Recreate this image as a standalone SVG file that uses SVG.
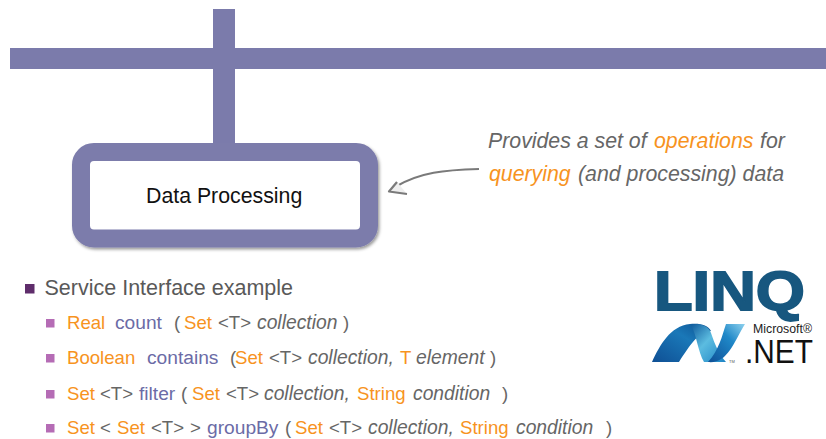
<svg xmlns="http://www.w3.org/2000/svg" width="826" height="439" viewBox="0 0 826 439">
<style>
text{font-family:"Liberation Sans",Arial,sans-serif}
.bar{fill:#7b7bab}
.h{font-size:21.500px;fill:#595959}
.s{font-size:18.600px;fill:#666}
.n{font-size:21.300px;font-style:italic;fill:#666}
.o{fill:#f7931e;font-style:normal}
.ni{fill:#f7931e;font-style:italic}
.f{fill:#6b6ba6;font-size:19.200px}
.i{font-style:italic;font-size:19.300px}
.b1{fill:#5f2d6b}
.b2{fill:#b56cb5}
</style>
<defs>
<filter id="sh" x="-10%" y="-10%" width="125%" height="130%"><feDropShadow dx="1.500" dy="2" stdDeviation="1.800" flood-color="#000" flood-opacity="0.4"/></filter>
<linearGradient id="w1" x1="0" y1="1" x2="1" y2="0"><stop offset="0" stop-color="#0f4f94"/><stop offset="0.6" stop-color="#1a78b8"/><stop offset="1" stop-color="#0d4f8f"/></linearGradient>
<linearGradient id="w2" x1="0" y1="0" x2="1" y2="1"><stop offset="0" stop-color="#0f5a9c"/><stop offset="0.45" stop-color="#5cbce0"/><stop offset="1" stop-color="#1c83c4"/></linearGradient>
<linearGradient id="w3" x1="0" y1="1" x2="1" y2="0"><stop offset="0" stop-color="#0e4f96"/><stop offset="0.6" stop-color="#1f88c8"/><stop offset="1" stop-color="#8fd2ee"/></linearGradient>
</defs>
<g id="connectors">
<rect class="bar" x="10" y="48" width="816" height="21"/>
<rect class="bar" x="213" y="9" width="22" height="135"/>
<path d="M479 169C445 170 420 172 395 187" fill="none" stroke="#7a7a7a" stroke-width="2.200"/>
<path d="M397 182L389 191.500L407 194" fill="#eee" stroke="#7a7a7a" stroke-width="2.200" stroke-linejoin="round"/>
</g>
<g id="data-processing">
<rect x="81" y="152" width="288" height="86.500" rx="13" fill="#fff" stroke="#7b7bab" stroke-width="18" filter="url(#sh)"/>
<text x="146" y="203" font-size="21.300" fill="#111">Data Processing</text>
</g>
<g id="note">
<text class="n" y="148"><tspan x="488">Provides a set of </tspan><tspan class="ni" x="654">operations</tspan><tspan x="760">for</tspan></text>
<text class="n" y="181"><tspan class="ni" x="489">querying</tspan><tspan x="578">(and processing) data</tspan></text>
</g>
<g id="list">
<rect class="b1" x="25" y="284" width="9.500" height="9.500"/>
<text class="h" x="44.500" y="295">Service Interface example</text>
<rect class="b2" x="46" y="319" width="8.500" height="8.500"/>
<rect class="b2" x="46" y="354" width="8.500" height="8.500"/>
<rect class="b2" x="46" y="390" width="8.500" height="8.500"/>
<rect class="b2" x="46" y="424" width="8.500" height="8.500"/>
<text class="s" y="329"><tspan class="o" x="67">Real</tspan><tspan class="f" x="115">count</tspan><tspan x="174">(</tspan><tspan class="o" x="184">Set</tspan><tspan x="218">&lt;T&gt;</tspan><tspan class="i" x="257">collection</tspan><tspan x="343">)</tspan></text>
<text class="s" y="364"><tspan class="o" x="67">Boolean</tspan><tspan class="f" x="147">contains</tspan><tspan x="230">(</tspan><tspan class="o" x="235">Set</tspan><tspan x="269">&lt;T&gt;</tspan><tspan class="i" x="308">collection,</tspan><tspan class="o" x="400">T</tspan><tspan class="i" x="416">element</tspan><tspan x="490">)</tspan></text>
<text class="s" y="400"><tspan class="o" x="67">Set</tspan><tspan x="100">&lt;T&gt;</tspan><tspan class="f" x="139">filter</tspan><tspan x="181">(</tspan><tspan class="o" x="192">Set</tspan><tspan x="226">&lt;T&gt;</tspan><tspan class="i" x="264">collection,</tspan><tspan class="o" x="357">String</tspan><tspan class="i" x="413">condition</tspan><tspan x="502">)</tspan></text>
<text class="s" y="434"><tspan class="o" x="67">Set</tspan><tspan x="100">&lt;</tspan><tspan class="o" x="117">Set</tspan><tspan x="151">&lt;T&gt;</tspan><tspan x="190">&gt;</tspan><tspan class="f" x="207">groupBy</tspan><tspan x="285">(</tspan><tspan class="o" x="295">Set</tspan><tspan x="329">&lt;T&gt;</tspan><tspan class="i" x="368">collection,</tspan><tspan class="o" x="460">String</tspan><tspan class="i" x="516">condition</tspan><tspan x="606">)</tspan></text>
</g>
<g id="logo">
<text x="654" y="310" font-size="56" font-weight="700" fill="#17577f" stroke="#17577f" stroke-width="1.800" textLength="151" lengthAdjust="spacingAndGlyphs">LINQ</text>
<path d="M652 362C660 345 670 326 690 324C700 323 708 325 711 331C698 332 690 345 679 362Z" fill="url(#w1)"/>
<path d="M691 325C699 323 708 325 711 333C715 345 719 354 726 362L704 362C698 352 697 336 691 325Z" fill="url(#w2)"/>
<path d="M745 324L726 324C722 336 719 350 708 362C727 364 733 344 745 324Z" fill="url(#w3)"/>
<text x="753" y="333" font-size="13" fill="#222" textLength="59" lengthAdjust="spacingAndGlyphs">Microsoft®</text>
<text x="745" y="362.500" font-size="33" fill="#111" textLength="68" lengthAdjust="spacingAndGlyphs">.NET</text>
<text x="729" y="363" font-size="4" fill="#555">TM</text>
</g>
</svg>
